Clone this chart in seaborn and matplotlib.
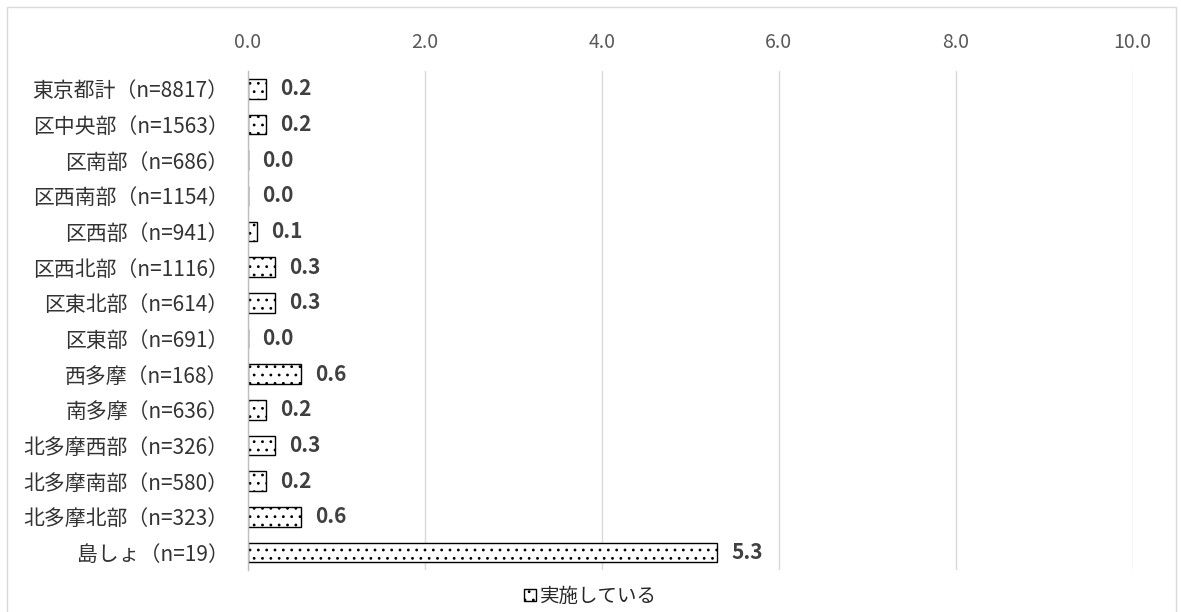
import pandas as pd
import seaborn as sns
import matplotlib.pyplot as plt
from matplotlib.patches import Patch, Rectangle

regions = ["東京都計（n=8817）", "区中央部（n=1563）", "区南部（n=686）", "区西南部（n=1154）",
           "区西部（n=941）", "区西北部（n=1116）", "区東北部（n=614）", "区東部（n=691）",
           "西多摩（n=168）", "南多摩（n=636）", "北多摩西部（n=326）", "北多摩南部（n=580）",
           "北多摩北部（n=323）", "島しょ（n=19）"]
values = [0.2, 0.2, 0.0, 0.0, 0.1, 0.3, 0.3, 0.0, 0.6, 0.2, 0.3, 0.2, 0.6, 5.3]
x_ticks = [0, 2, 4, 6, 8, 10]
series_name = "実施している"

df = pd.DataFrame({"region": regions, "value": values})

sns.set_style("white")
plt.rcParams['font.family'] = ['Noto Sans CJK JP', 'DejaVu Sans']
plt.rcParams['hatch.linewidth'] = 0.8

fig = plt.figure(figsize=(11.81, 6.12), dpi=100)
ax = fig.add_axes([0.21, 0.068, 0.749, 0.816])

sns.barplot(data=df, x="value", y="region", orient="h", ax=ax,
            color="white", edgecolor="black", linewidth=1.0, width=0.55)
for p in ax.patches:
    p.set_hatch("..")

for i, v in enumerate(values):
    ax.text(v + 0.16, i, f"{v:.1f}", va="center", ha="left",
            fontsize=15, fontweight="bold", color="#404040")

ax.set_xlim(0, 10)
ax.set_ylim(13.5, -0.5)
ax.set_xticks(x_ticks)
ax.set_xticklabels([f"{t:.1f}" for t in x_ticks], color="#595959", fontsize=14)
ax.xaxis.tick_top()
ax.tick_params(axis="x", length=0, pad=13)
ax.tick_params(axis="y", length=0, pad=14, labelsize=15, labelcolor="#333333")
ax.set_xlabel("")
ax.set_ylabel("")
ax.grid(axis="x", color="#d9d9d9", linewidth=1)
ax.set_axisbelow(True)
for s in ["top", "right", "bottom"]:
    ax.spines[s].set_visible(False)
ax.spines["left"].set_color("#bfbfbf")
ax.spines["left"].set_linewidth(1)

handle = Patch(facecolor="white", edgecolor="black", hatch="..", label=series_name)
fig.legend(handles=[handle], loc="lower center", bbox_to_anchor=(0.5, -0.02),
           frameon=False, fontsize=14, handlelength=0.6, handleheight=0.6,
           handletextpad=0.2)

fig.patches.append(Rectangle((0.006, -0.01), 0.99, 0.998, transform=fig.transFigure,
                             fill=False, edgecolor="#d9d9d9", linewidth=1))

fig.savefig("out.png", dpi=100)
